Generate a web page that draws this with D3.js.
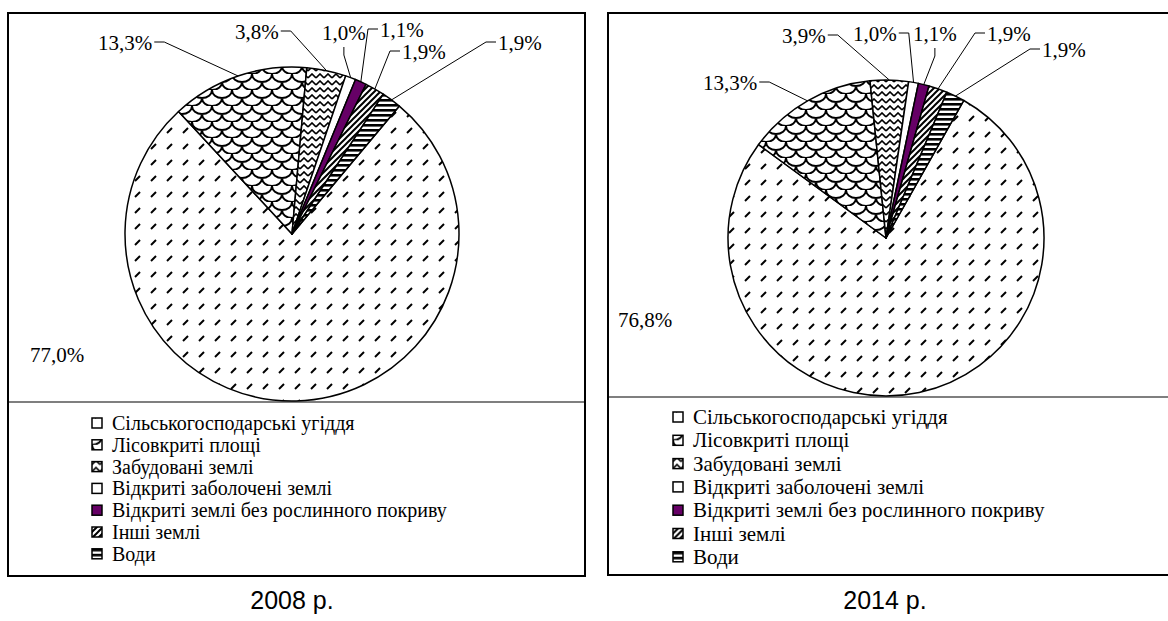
<!DOCTYPE html>
<html>
<head>
<meta charset="utf-8">
<script src="https://cdn.jsdelivr.net/npm/d3@7"></script>
<style>
  body { margin: 0; background: #fff; }
</style>
</head>
<body>
<svg id="chart" width="1168" height="621"></svg>
<script>
const CATEGORIES = [
  "Сільськогосподарські угіддя",
  "Лісовкриті площі",
  "Забудовані землі",
  "Відкриті заболочені землі",
  "Відкриті землі без рослинного покриву",
  "Інші землі",
  "Води"
];
const VALUES_2008 = [77.0, 13.3, 3.8, 1.0, 1.1, 1.9, 1.9];
const VALUES_2014 = [76.8, 13.3, 3.9, 1.0, 1.1, 1.9, 1.9];
const YEARS = ["2008 р.", "2014 р."];

const PATTERN_IDS = ["p-agri", "p-forest", "p-built", "p-swamp", "p-bare", "p-other", "p-water"];

// label placement: [x, y, side where the leader leaves the text]
const LABEL_POS_2008 = [[30, 355, "none"], [98, 43, "r"], [235, 32, "r"], [322, 33, "b"], [380, 30, "l"], [402, 52, "l"], [498, 43, "l"]];
const LABEL_POS_2014 = [[618, 320, "none"], [703, 83, "r"], [782, 36, "r"], [853, 34, "r"], [913, 34, "b"], [987, 34, "l"], [1042, 50, "l"]];

const SERIF = "'Liberation Serif', 'Times New Roman', 'DejaVu Serif', serif";
const SANS = "'Liberation Sans', Arial, sans-serif";

const panels = [
  { year: YEARS[0], values: VALUES_2008, box: [8, 13, 585, 576], sep: 402, cx: 292, cy: 234, r: 167, start: 40,
    legendX: 92, legendY: 423, legendStep: 21.8, legendFont: 20, labels: LABEL_POS_2008, captionX: 292 },
  { year: YEARS[1], values: VALUES_2014, box: [608, 13, 1180, 575], sep: 397, cx: 886, cy: 238, r: 158, start: 29.5,
    legendX: 673, legendY: 417, legendStep: 23.3, legendFont: 21, labels: LABEL_POS_2014, captionX: 885 }
];

const fmt = d3.formatLocale({ decimal: ",", thousands: " ", grouping: [3], currency: ["", ""] }).format(".1f");

const svg = d3.select("#chart");
const defs = svg.append("defs");

const addPattern = (id, w, h, draw) => {
  const p = defs.append("pattern")
    .attr("id", id)
    .attr("patternUnits", "userSpaceOnUse")
    .attr("width", w)
    .attr("height", h);
  p.append("rect").attr("width", w).attr("height", h).attr("fill", "#fff");
  draw(p);
};

addPattern("p-agri", 16, 16, p => p.append("path").attr("d", "M3,11 L8,6").attr("stroke", "#000").attr("stroke-width", 2));
addPattern("p-forest", 20, 16, p => p.append("path")
  .attr("d", "M0,0 A10,8 0 0 0 20,0 M-10,8 A10,8 0 0 0 10,8 M10,8 A10,8 0 0 0 30,8")
  .attr("fill", "none").attr("stroke", "#000").attr("stroke-width", 2));
addPattern("p-built", 8, 7, p => p.append("path").attr("d", "M0,5 L4,1 L8,5")
  .attr("fill", "none").attr("stroke", "#000").attr("stroke-width", 1.6));
addPattern("p-swamp", 8, 8, p => {});
addPattern("p-bare", 8, 8, p => p.select("rect").attr("fill", "#660066"));
addPattern("p-other", 6, 6, p => p.append("path").attr("d", "M0,6 L6,0 M-1,1 L1,-1 M5,7 L7,5")
  .attr("stroke", "#000").attr("stroke-width", 2));
addPattern("p-water", 5, 5, p => p.append("rect").attr("width", 5).attr("height", 2.6).attr("fill", "#000"));

panels.forEach(panel => {
  const g = svg.append("g");
  const [x0, y0, x1, y1] = panel.box;

  g.append("rect")
    .attr("x", x0).attr("y", y0)
    .attr("width", x1 - x0).attr("height", y1 - y0)
    .attr("fill", "#fff").attr("stroke", "#000").attr("stroke-width", 2);
  g.append("line")
    .attr("x1", x0).attr("x2", x1)
    .attr("y1", panel.sep).attr("y2", panel.sep)
    .attr("stroke", "#000").attr("stroke-width", 1.2);

  const rad = panel.start * Math.PI / 180;
  const pie = d3.pie().sort(null).value(d => d).startAngle(rad).endAngle(rad + 2 * Math.PI);
  const arcs = pie(panel.values);
  const arc = d3.arc().innerRadius(0).outerRadius(panel.r);

  const pieG = g.append("g").attr("transform", `translate(${panel.cx},${panel.cy})`);
  pieG.selectAll("path")
    .data(arcs)
    .enter()
    .append("path")
    .attr("d", arc)
    .attr("fill", (d, i) => `url(#${PATTERN_IDS[i]})`)
    .attr("stroke", "#000")
    .attr("stroke-width", 1.5)
    .attr("stroke-linejoin", "round");

  // percent labels with leader lines
  arcs.forEach((a, i) => {
    const [lx, ly, side] = panel.labels[i];
    const t = g.append("text")
      .attr("x", lx).attr("y", ly)
      .attr("dominant-baseline", "central")
      .attr("font-family", SERIF)
      .attr("font-size", 21)
      .text(fmt(a.value) + "%");
    if (side === "none") return;
    const w = t.node().getComputedTextLength();
    const mid = (a.startAngle + a.endAngle) / 2;
    const ex = panel.cx + panel.r * Math.sin(mid);
    const ey = panel.cy - panel.r * Math.cos(mid);
    let pts;
    if (side === "r") pts = [[lx + w + 2, ly - 1], [lx + w + 12, ly - 1], [ex, ey]];
    else if (side === "l") pts = [[lx - 2, ly - 1], [lx - 12, ly - 1], [ex, ey]];
    else pts = [[lx + w / 2, ly + 14], [lx + w / 2, ly + 22], [ex, ey]];
    g.append("path")
      .attr("d", d3.line()(pts))
      .attr("fill", "none")
      .attr("stroke", "#000")
      .attr("stroke-width", 1);
  });

  // legend
  const items = g.selectAll("g.legend-item")
    .data(CATEGORIES)
    .enter()
    .append("g")
    .attr("class", "legend-item")
    .attr("transform", (d, i) => `translate(${panel.legendX},${panel.legendY + i * panel.legendStep})`);
  items.append("rect")
    .attr("x", 0).attr("y", -5)
    .attr("width", 10).attr("height", 10)
    .attr("fill", (d, i) => `url(#${PATTERN_IDS[i]})`)
    .attr("stroke", "#000")
    .attr("stroke-width", 1.5);
  items.append("text")
    .attr("x", 20).attr("y", 0)
    .attr("dominant-baseline", "central")
    .attr("font-family", SERIF)
    .attr("font-size", panel.legendFont)
    .text(d => d);

  svg.append("text")
    .attr("x", panel.captionX).attr("y", 600)
    .attr("text-anchor", "middle")
    .attr("dominant-baseline", "central")
    .attr("font-family", SANS)
    .attr("font-size", 25)
    .text(panel.year);
});
</script>
</body>
</html>
